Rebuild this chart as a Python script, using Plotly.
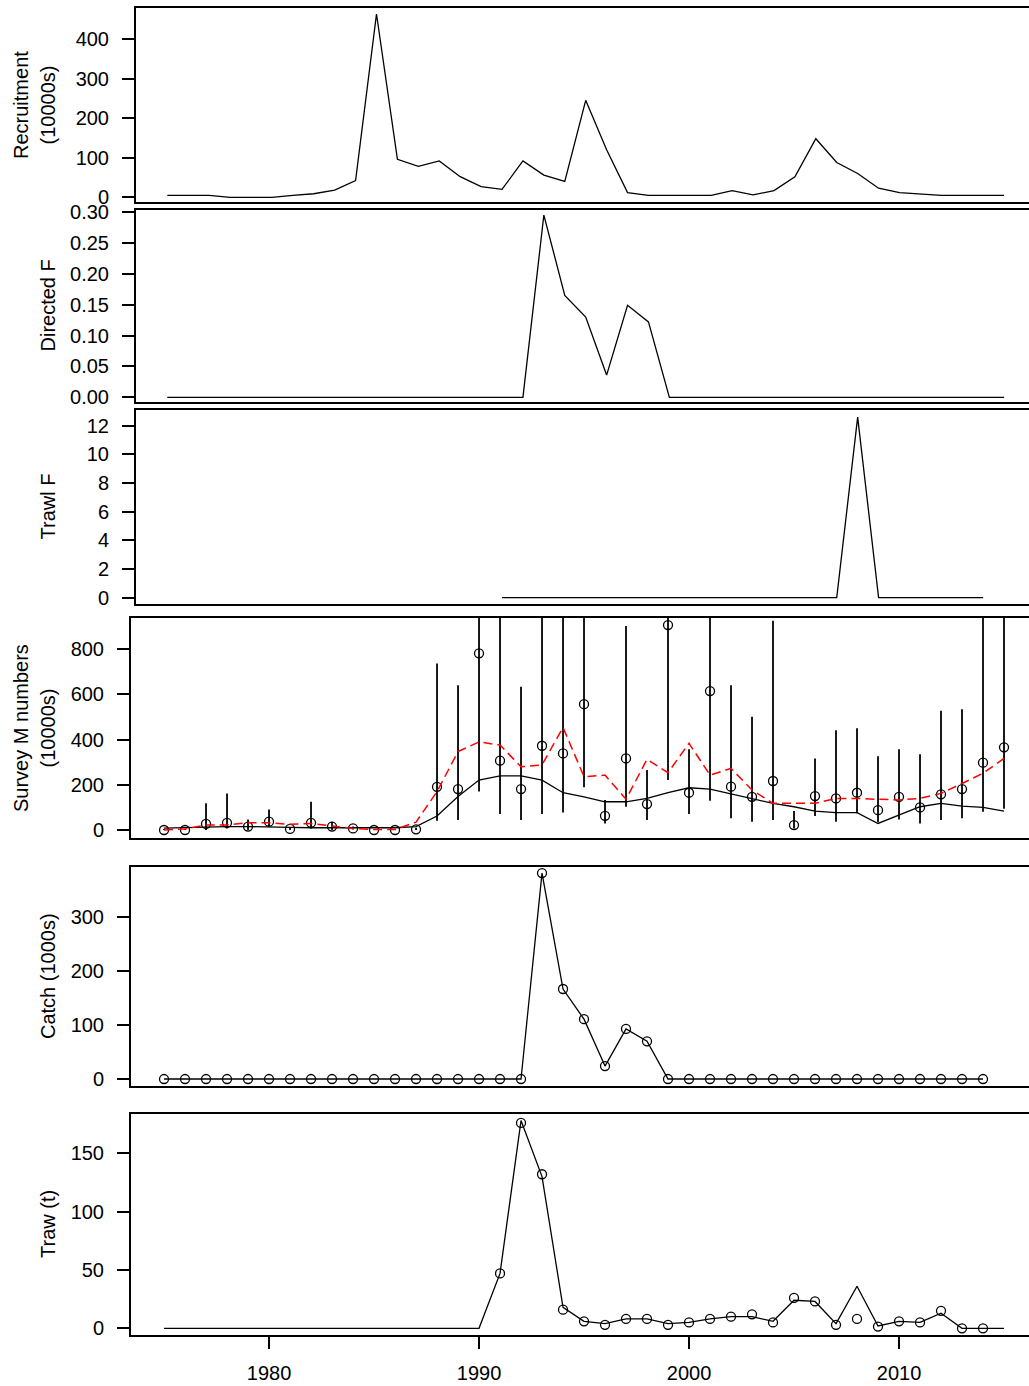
import plotly.graph_objects as go

# ---------------- data ----------------
years = list(range(1975, 2016))

recruitment = [5, 5, 5, 0, 0, 0, 5, 9, 18, 42, 463, 96, 78, 92, 52, 27, 20, 92, 56, 40,
               245, 120, 12, 5, 5, 5, 5, 17, 6, 17, 52, 148, 88, 60, 23, 12, 8, 5, 5, 5, 5]

directed_f = [0] * 18 + [0.295, 0.165, 0.130, 0.036, 0.149, 0.122] + [0] * 17

trawl_f_years = list(range(1991, 2015))
trawl_f = [0] * 17 + [12.6] + [0] * 6

survey_obs = [0, 0, 27, 32, 15, 37, 5, 32, 15, 7, 0, 0, 3, 191, 181, 782, 307, 181, 373, 339,
              557, 63, 317, 115, 907, 165, 615, 192, 147, 217, 22, 150, 140, 165, 88, 147, 100,
              158, 181, 298, 366]
survey_upper = [5, 5, 118, 162, 47, 91, 10, 125, 37, 15, 2, 2, 10, 737, 641, 1300, 1300, 634,
                1300, 1300, 1300, 133, 903, 266, 1300, 357, 1300, 641, 501, 926, 84, 317, 442,
                450, 327, 357, 335, 528, 535, 1300, 1300]
survey_lower = [0, 0, 0, 7, 0, 15, 0, 7, 0, 2, 0, 0, 0, 41, 44, 170, 71, 44, 71, 78, 189, 29,
                103, 44, 221, 71, 130, 52, 37, 44, 7, 62, 37, 74, 34, 47, 29, 44, 52, 81, 94]
survey_pred = [8, 10, 15, 15, 15, 15, 12, 10, 10, 10, 10, 10, 15, 62, 148, 221, 240, 240, 221,
               165, 147, 125, 125, 140, 165, 187, 181, 159, 140, 118, 103, 84, 77, 77, 29, 66,
               103, 118, 106, 100, 84]
survey_alt = [0, 5, 22, 22, 32, 32, 25, 29, 18, 7, 2, 2, 35, 170, 347, 390, 376, 280, 288, 454,
              236, 243, 136, 313, 254, 384, 243, 273, 177, 118, 118, 118, 140, 140, 136, 133,
              140, 162, 206, 251, 317]

catch_years = list(range(1975, 2015))
catch = [0] * 18 + [382, 167, 111, 24, 93, 70] + [0] * 16

traw_obs_years = list(range(1991, 2015))
traw_obs = [47, 176, 132, 16, 6, 3, 8, 8, 3, 5, 8, 10, 12, 5, 26, 23, 3, 8, 1.5, 6, 5, 15, 0, 0]
traw_pred = [0] * 16 + [47, 178, 130, 18, 6, 4, 8, 8, 4, 5, 8, 10, 10, 6, 24, 23, 4, 36, 2, 6,
                        5, 13, 0, 0, 0]

x_ticks = [1980, 1990, 2000, 2010]
y_titles = [["Recruitment", "(10000s)"], ["Directed F"], ["Trawl F"],
            ["Survey M numbers", "(10000s)"], ["Catch (1000s)"], ["Traw (t)"]]
y_tickvals = [[0, 100, 200, 300, 400],
              [0, 0.05, 0.10, 0.15, 0.20, 0.25, 0.30],
              [0, 2, 4, 6, 8, 10, 12],
              [0, 200, 400, 600, 800],
              [0, 100, 200, 300],
              [0, 50, 100, 150]]
y_ticktext = [[str(v) for v in y_tickvals[0]],
              ["%.2f" % v for v in y_tickvals[1]],
              [str(v) for v in y_tickvals[2]],
              [str(v) for v in y_tickvals[3]],
              [str(v) for v in y_tickvals[4]],
              [str(v) for v in y_tickvals[5]]]

# ---------------- layout geometry ----------------
W, H = 1029, 1386
FONT = "Liberation Sans, Arial, sans-serif"
FS = 20
# (left px, top px, bottom px, x range, y range)
panels = [
    (135, 7, 203, [1973.456, 2016.19], [-14.4, 480.6]),
    (135, 209, 403, [1973.456, 2016.19], [-0.0092, 0.3048]),
    (135, 409, 605, [1973.456, 2016.19], [-0.51, 13.17]),
    (130, 617, 839, [1973.38, 2016.19], [-39.8, 942.9]),
    (130, 866, 1087, [1973.38, 2016.19], [-14.8, 395.2]),
    (130, 1113, 1336, [1973.38, 2016.19], [-6.6, 184.5]),
]

fig = go.Figure()
line_style = dict(color="black", width=1.3)
marker_style = dict(symbol="circle-open", size=9, color="black", line=dict(width=1.3, color="black"))

# Panel 1
fig.add_trace(go.Scatter(x=years, y=recruitment, mode="lines", line=line_style,
                         xaxis="x", yaxis="y"))
# Panel 2
fig.add_trace(go.Scatter(x=years, y=directed_f, mode="lines", line=line_style,
                         xaxis="x2", yaxis="y2"))
# Panel 3
fig.add_trace(go.Scatter(x=trawl_f_years, y=trawl_f, mode="lines", line=line_style,
                         xaxis="x3", yaxis="y3"))
# Panel 4
err_plus = [u - o for u, o in zip(survey_upper, survey_obs)]
err_minus = [o - l for o, l in zip(survey_obs, survey_lower)]
fig.add_trace(go.Scatter(x=years, y=survey_obs, mode="markers", marker=marker_style,
                         error_y=dict(type="data", symmetric=False, array=err_plus,
                                      arrayminus=err_minus, width=0, thickness=1.8,
                                      color="black"),
                         xaxis="x4", yaxis="y4"))
fig.add_trace(go.Scatter(x=years, y=survey_pred, mode="lines", line=line_style,
                         xaxis="x4", yaxis="y4"))
fig.add_trace(go.Scatter(x=years, y=survey_alt, mode="lines",
                         line=dict(color="red", width=1.5, dash="9px,5px"),
                         xaxis="x4", yaxis="y4"))
# Panel 5
fig.add_trace(go.Scatter(x=catch_years, y=catch, mode="lines+markers", line=line_style,
                         marker=marker_style, xaxis="x5", yaxis="y5"))
# Panel 6
fig.add_trace(go.Scatter(x=years, y=traw_pred, mode="lines", line=line_style,
                         xaxis="x6", yaxis="y6"))
fig.add_trace(go.Scatter(x=traw_obs_years, y=traw_obs, mode="markers", marker=marker_style,
                         xaxis="x6", yaxis="y6"))

layout = dict(width=W, height=H, margin=dict(l=0, r=0, t=0, b=0, pad=0),
              template="none", autosize=False,
              paper_bgcolor="white", plot_bgcolor="white", showlegend=False,
              font=dict(family=FONT, size=FS, color="black"))
shapes = []
annotations = []
for i, (left, top, bottom, xr, yr) in enumerate(panels, start=1):
    sx = "" if i == 1 else str(i)
    last = (i == len(panels))
    layout["xaxis" + sx] = dict(
        domain=[left / W, 1.0], range=xr, anchor="y" + sx, automargin=False,
        showgrid=False, zeroline=False, showline=False,
        showticklabels=last, ticks="outside" if last else "",
        tickvals=x_ticks if last else [], ticklen=12, tickwidth=1.5, tickcolor="black",
        ticklabelstandoff=7, tickfont=dict(family=FONT, size=FS, color="black"))
    layout["yaxis" + sx] = dict(
        domain=[1 - bottom / H, 1 - top / H], range=yr, anchor="x" + sx, automargin=False,
        showgrid=False, zeroline=False, showline=False,
        ticks="outside", tickvals=y_tickvals[i - 1], ticktext=y_ticktext[i - 1],
        ticklen=12, tickwidth=1.5, tickcolor="black", ticklabelstandoff=9,
        tickfont=dict(family=FONT, size=FS, color="black"))
    shapes.append(dict(type="rect", xref="x%s domain" % sx, yref="y%s domain" % sx,
                       x0=0, x1=1.2, y0=0, y1=1, line=dict(color="black", width=2),
                       layer="above"))
    yc = 1 - ((top + bottom) / 2) / H
    lines = y_titles[i - 1]
    xs = [21.0, 47.5] if len(lines) == 2 else [47.5]
    for txt, xp in zip(lines, xs):
        annotations.append(dict(text=txt, x=xp / W, y=yc, xref="paper", yref="paper",
                                xanchor="center", yanchor="middle", textangle=-90,
                                showarrow=False,
                                font=dict(family=FONT, size=FS, color="black")))
layout["shapes"] = shapes
layout["annotations"] = annotations
fig.update_layout(**layout)

fig.write_html("out.html", config={"displayModeBar": False},
               post_script="document.body.style.margin='0';document.body.style.overflow='hidden';")
